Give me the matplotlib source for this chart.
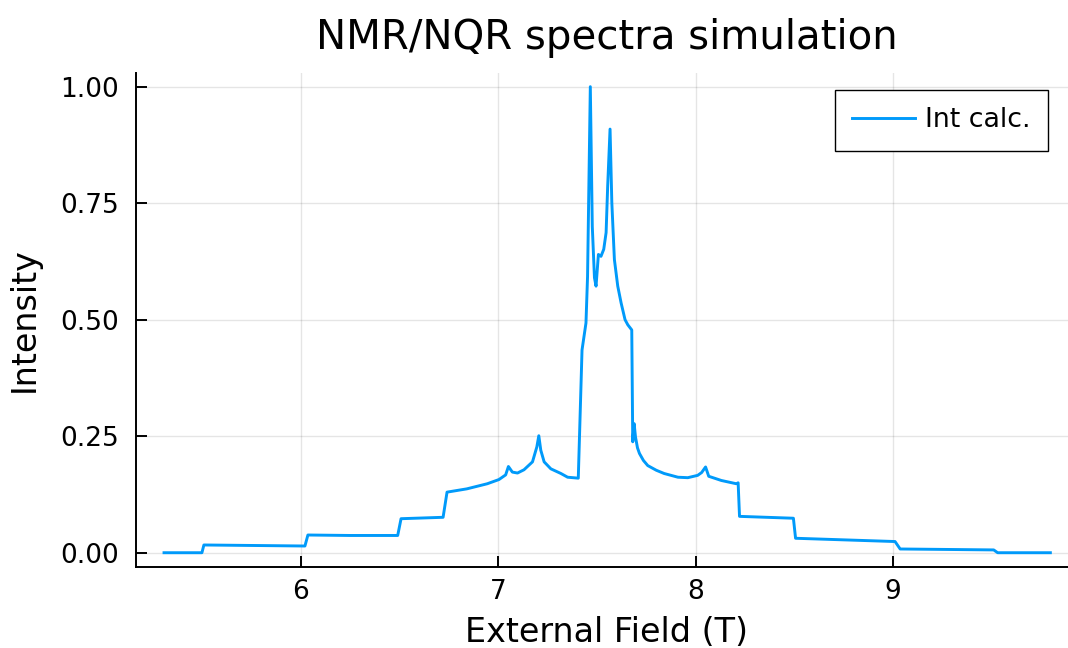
import numpy as np
import matplotlib.pyplot as plt
from matplotlib.ticker import FormatStrFormatter

# spectrum (field in T, normalised intensity)
field = [5.306, 5.498, 5.508, 6.020, 6.035, 6.250, 6.490, 6.507, 6.720, 6.740,
         6.840, 6.944, 7.003, 7.037, 7.051, 7.071, 7.097, 7.130, 7.173, 7.195,
         7.205, 7.215, 7.232, 7.266, 7.317, 7.351, 7.405, 7.424, 7.444, 7.452,
         7.466, 7.476, 7.487, 7.495, 7.507, 7.520, 7.534, 7.546, 7.554, 7.566,
         7.575, 7.588, 7.605, 7.622, 7.642, 7.656, 7.676, 7.681, 7.688, 7.695,
         7.705, 7.715, 7.735, 7.757, 7.800, 7.840, 7.910, 7.960, 8.010, 8.030,
         8.050, 8.066, 8.130, 8.206, 8.215, 8.222, 8.495, 8.506, 9.010, 9.036,
         9.510, 9.530, 9.797]
intensity = [0.000, 0.000, 0.0166, 0.0144, 0.038, 0.037, 0.037, 0.073, 0.076, 0.130,
             0.137, 0.148, 0.157, 0.167, 0.185, 0.173, 0.171, 0.178, 0.195, 0.227,
             0.251, 0.220, 0.195, 0.180, 0.170, 0.162, 0.160, 0.435, 0.493, 0.593,
             1.000, 0.700, 0.590, 0.572, 0.640, 0.636, 0.651, 0.687, 0.787, 0.909,
             0.751, 0.629, 0.572, 0.536, 0.500, 0.489, 0.478, 0.238, 0.277, 0.248,
             0.225, 0.213, 0.198, 0.187, 0.177, 0.170, 0.162, 0.161, 0.166, 0.172,
             0.184, 0.164, 0.155, 0.148, 0.150, 0.078, 0.074, 0.031, 0.024, 0.008,
             0.006, 0.000, 0.000]

x_ticks = [6, 7, 8, 9]
y_ticks = [0.0, 0.25, 0.5, 0.75, 1.0]

fig = plt.figure(figsize=(10.68, 6.48), dpi=100)
ax = fig.add_axes([136/1068, 1-566.7/648, (1077-136)/1068, (566.7-72.7)/648])

ax.plot(field, intensity, color='#009AFA', lw=2.1, label='Int calc.')

ax.set_xlim(5.164, 9.932)
ax.set_ylim(-0.03, 1.03)
ax.set_xticks(x_ticks)
ax.set_yticks(y_ticks)
ax.yaxis.set_major_formatter(FormatStrFormatter('%.2f'))
ax.grid(True, color='black', alpha=0.1, lw=1.0)

for s in ['top', 'right']:
    ax.spines[s].set_visible(False)
for s in ['left', 'bottom']:
    ax.spines[s].set_linewidth(1.4)
ax.tick_params(direction='in', length=8, width=1.4, labelsize=19)
ax.tick_params(axis='x', pad=9)
ax.tick_params(axis='y', pad=12)

ax.set_xlabel('External Field (T)', fontsize=24, labelpad=8)
ax.set_ylabel('Intensity', fontsize=24, labelpad=14)
ax.set_title('NMR/NQR spectra simulation', fontsize=29, pad=17)

leg = ax.legend(loc='upper right', bbox_to_anchor=(1047.7/1068, 1-90/648),
                bbox_transform=fig.transFigure, borderaxespad=0,
                fontsize=19.3, fancybox=False, framealpha=1, edgecolor='black',
                handlelength=2.35, handletextpad=0.35, borderpad=0.65)
leg.get_frame().set_linewidth(1.0)

plt.savefig('out.png', dpi=100)
